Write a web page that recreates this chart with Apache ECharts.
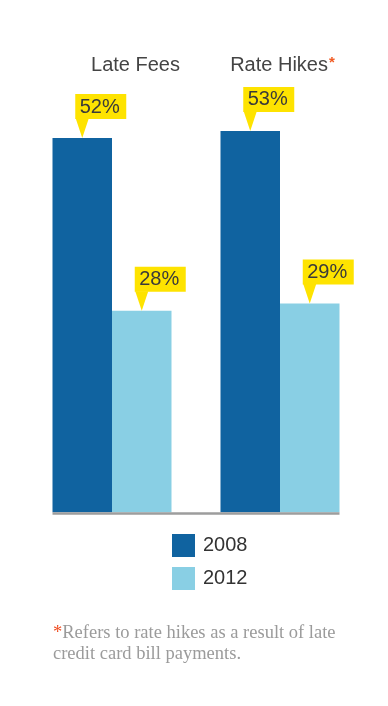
<!DOCTYPE html>
<html>
<head>
<meta charset="utf-8">
<style>
  html, body { margin: 0; padding: 0; background: #ffffff; }
  #chart { width: 388px; height: 706px; }
</style>
<script src="https://cdn.jsdelivr.net/npm/echarts@6/dist/echarts.min.js"></script>
</head>
<body>
<div id="chart"></div>
<script>
// ---- data ----
var categories = ['Late Fees', 'Rate Hikes'];
var seriesNames = ['2008', '2012'];
var values2008 = [52, 53];
var values2012 = [28, 29];
var footnote = ['Refers to rate hikes as a result of late', 'credit card bill payments.'];

// ---- styles ----
var C2008 = '#1063a0';
var C2012 = '#89cfe4';
var YELLOW = '#fee300';
var BAR_W = 59.5;
var SANS = '"Liberation Sans", Arial, Helvetica, sans-serif';
var SERIF = '"Liberation Serif", "Times New Roman", serif';

var chart = echarts.init(document.getElementById('chart'), null, { renderer: 'canvas' });

function toPairs(vals) {
  return vals.map(function (v, i) { return [i, v]; });
}

function calloutRenderer(offset) {
  return function (params, api) {
    var cat = api.value(0);
    var val = api.value(1);
    var p = api.coord([cat, val]);
    var tx = p[0] + offset;
    var ty = p[1];
    var boxX = tx - 7, boxY = ty - 44, boxW = 51, boxH = 25;
    return {
      type: 'group',
      children: [
        { type: 'polygon', shape: { points: [[tx - 6.5, ty - 19.5], [tx + 6.5, ty - 19.5], [tx, ty]] },
          style: { fill: YELLOW } },
        { type: 'rect', shape: { x: boxX, y: boxY, width: boxW, height: boxH },
          style: { fill: YELLOW } },
        { type: 'text', style: { text: val + '%', x: boxX + 4.5, y: boxY + boxH / 2 + 0.5,
          fill: '#3a3a3a', fontSize: 20, fontFamily: SANS, align: 'left', verticalAlign: 'middle' } }
      ]
    };
  };
}

var option = {
  animation: false,
  backgroundColor: '#ffffff',
  title: {
    left: 53,
    top: 623,
    padding: 0,
    text: '{r|*}{g|' + footnote[0] + '}\n{g|' + footnote[1] + '}',
    textStyle: {
      fontWeight: 'normal',
      rich: {
        r: { color: '#f04e23', fontSize: 18.5, fontWeight: 'normal', fontFamily: SERIF, lineHeight: 21 },
        g: { color: '#9b9b9b', fontSize: 18.5, fontWeight: 'normal', fontFamily: SERIF, lineHeight: 21 }
      }
    }
  },
  legend: {
    orient: 'vertical',
    left: 172,
    top: 534,
    padding: 0,
    itemWidth: 23,
    itemHeight: 23,
    itemGap: 10,
    icon: 'rect',
    data: seriesNames,
    textStyle: { color: '#333333', fontSize: 20, fontFamily: SANS, padding: [0, 0, 0, 3] }
  },
  grid: { left: 28, right: 24, top: 80.5, bottom: 193.7 },
  xAxis: {
    type: 'category',
    data: categories,
    position: 'top',
    axisLine: { show: false },
    axisTick: { show: false },
    axisLabel: {
      interval: 0,
      margin: 5,
      formatter: function (v, i) {
        return i === 0 ? '{a|' + v + '}' : '{b|' + v + '}{s|*}';
      },
      rich: {
        a: { color: '#444444', fontSize: 20, fontFamily: SANS, padding: [0, 0, 0, 47] },
        b: { color: '#444444', fontSize: 20, fontFamily: SANS, padding: [0, 0, 0, 5] },
        s: { color: '#f15a22', fontSize: 15, fontWeight: 'bold', fontFamily: SANS, verticalAlign: 'top', padding: [0, 0, 0, 1] }
      }
    }
  },
  yAxis: {
    type: 'value',
    min: 0,
    max: 60,
    show: false,
    splitLine: { show: false }
  },
  series: [
    { name: seriesNames[0], type: 'bar', data: values2008, barWidth: BAR_W, barGap: '0%',
      itemStyle: { color: C2008 }, z: 2 },
    { name: seriesNames[1], type: 'bar', data: values2012, barWidth: BAR_W, barGap: '0%',
      itemStyle: { color: C2012 }, z: 2 },
    { type: 'custom', name: 'baseline', coordinateSystem: 'cartesian2d', data: [[0, 0]], z: 3,
      silent: true,
      renderItem: function (params, api) {
        var a = api.coord([0, 0]);
        var b = api.coord([1, 0]);
        return { type: 'line', shape: { x1: a[0] - BAR_W, y1: a[1] + 1.2, x2: b[0] + BAR_W, y2: a[1] + 1.2 },
          style: { stroke: '#9d9d9d', lineWidth: 2.4 } };
      } },
    { type: 'custom', name: 'c2008', coordinateSystem: 'cartesian2d', data: toPairs(values2008),
      encode: { x: 0, y: 1 }, z: 4, renderItem: calloutRenderer(-BAR_W / 2) },
    { type: 'custom', name: 'c2012', coordinateSystem: 'cartesian2d', data: toPairs(values2012),
      encode: { x: 0, y: 1 }, z: 4, renderItem: calloutRenderer(BAR_W / 2) }
  ]
};

chart.setOption(option);
</script>
</body>
</html>
